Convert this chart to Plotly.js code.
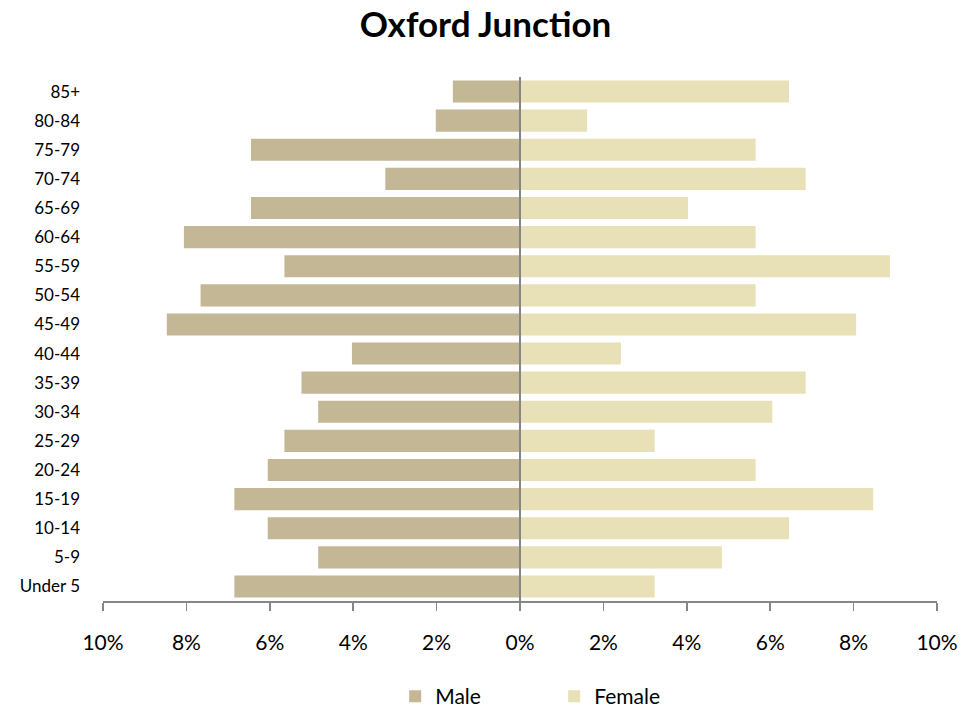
<!DOCTYPE html>
<html>
<head>
<meta charset="utf-8">
<script src="https://cdn.plot.ly/plotly-3.0.1.min.js"></script>
<style>html,body{margin:0;padding:0;background:#fff;}#chart{width:979px;height:713px;}</style>
</head>
<body>
<div id="chart"></div>
<script>
const categories = ["Under 5","5-9","10-14","15-19","20-24","25-29","30-34","35-39","40-44","45-49","50-54","55-59","60-64","65-69","70-74","75-79","80-84","85+"];
const maleValues = [6.85, 4.84, 6.05, 6.85, 6.05, 5.65, 4.84, 5.24, 4.03, 8.47, 7.66, 5.65, 8.06, 6.45, 3.23, 6.45, 2.02, 1.61];
const femaleValues = [3.23, 4.84, 6.45, 8.47, 5.65, 3.23, 6.05, 6.85, 2.42, 8.06, 5.65, 8.87, 5.65, 4.03, 6.85, 5.65, 1.61, 6.45];
const tickValues = [-10, -8, -6, -4, -2, 0, 2, 4, 6, 8, 10];
const tickLabels = ["10%", "8%", "6%", "4%", "2%", "0%", "2%", "4%", "6%", "8%", "10%"];

const font = "Lato, 'Open Sans', 'Liberation Sans', sans-serif";

const traces = [
  {
    type: "bar", orientation: "h", name: "Male",
    y: categories, x: maleValues.map(v => -v),
    marker: {color: "#C4B796"}, hoverinfo: "none"
  },
  {
    type: "bar", orientation: "h", name: "Female",
    y: categories, x: femaleValues,
    marker: {color: "#E8E0B6"}, hoverinfo: "none"
  }
];

const layout = {
  width: 979, height: 713,
  margin: {l: 103, r: 42, t: 77, b: 112, autoexpand: false},
  paper_bgcolor: "#fff", plot_bgcolor: "#fff",
  barmode: "relative",
  bargap: 0.24,
  title: {text: "<b>Oxford Junction</b>", x: 0.496, xref: "container", xanchor: "center",
          y: 0.965, yref: "container", yanchor: "middle",
          font: {family: font, size: 35, color: "#000"}},
  xaxis: {
    range: [-10, 10], tickvals: tickValues, ticktext: tickLabels,
    ticks: "outside", ticklen: 8, tickwidth: 1.5, tickcolor: "#868686",
    showline: true, linecolor: "#868686", linewidth: 1.5,
    showgrid: false, zeroline: false,
    tickfont: {family: font, size: 21, color: "#000"},
    ticklabelstandoff: 14, fixedrange: true
  },
  yaxis: {
    type: "category", showgrid: false, zeroline: false, showline: false, ticks: "",
    tickfont: {family: font, size: 17, color: "#000"},
    ticklabelstandoff: 22, automargin: false, fixedrange: true
  },
  shapes: [
    {type: "line", layer: "above", xref: "x", yref: "paper", x0: 0, x1: 0, y0: 0, y1: 1,
     line: {color: "#868686", width: 2}}
  ],
  legend: {orientation: "h", x: 0.541, xanchor: "center", y: 0.023, yref: "container", yanchor: "middle",
           font: {family: font, size: 21, color: "#000"}, itemwidth: 30, tracegroupgap: 0,
           entrywidth: 114},
  showlegend: true
};

Plotly.newPlot("chart", traces, layout, {displayModeBar: false, staticPlot: true});
</script>
</body>
</html>
